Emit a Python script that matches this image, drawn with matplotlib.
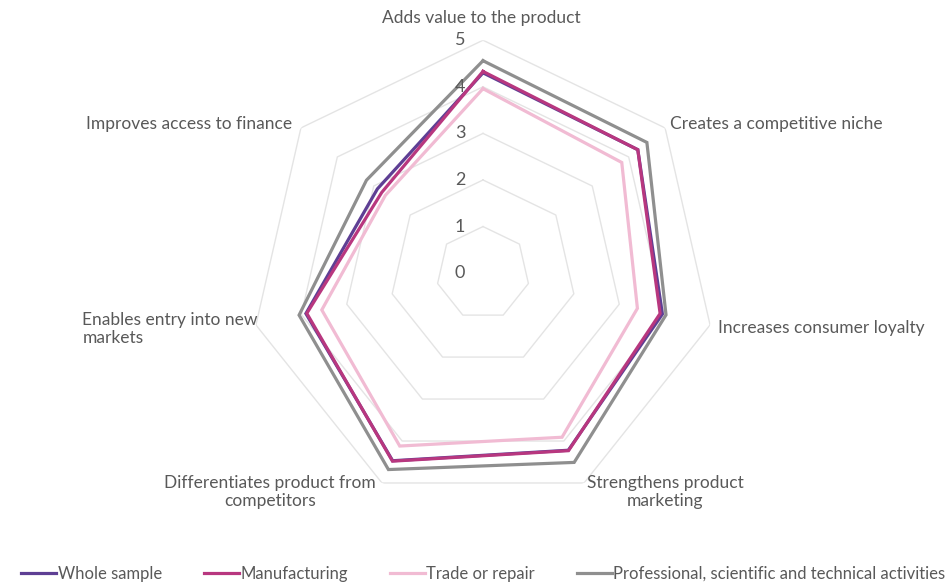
import numpy as np
import matplotlib
matplotlib.use("Agg")
import matplotlib.pyplot as plt
from matplotlib.transforms import offset_copy

plt.rcParams['font.family'] = ['Lato', 'DejaVu Sans']

categories = [
    "Adds value to the product",
    "Creates a competitive niche",
    "Increases consumer loyalty",
    "Strengthens product\nmarketing",
    "Differentiates product from\ncompetitors",
    "Enables entry into new\nmarkets",
    "Improves access to finance",
]
series_names = ["Whole sample", "Manufacturing", "Trade or repair",
                "Professional, scientific and technical activities"]
whole_sample = [4.30, 4.25, 3.95, 4.22, 4.47, 3.90, 2.90]
manufacturing = [4.33, 4.25, 3.90, 4.23, 4.48, 3.88, 2.78]
trade_repair = [3.96, 3.81, 3.40, 3.91, 4.12, 3.55, 2.68]
professional = [4.56, 4.50, 4.03, 4.51, 4.68, 4.05, 3.20]
radial_ticks = [0, 1, 2, 3, 4, 5]

colors = ["#5E3F94", "#B8377F", "#F1BBD3", "#8F8F8F"]
text_color = "#595959"
grid_color = "#E4E4E4"

fig = plt.figure(figsize=(9.48, 5.83), dpi=100)
ax = fig.add_axes([0.2637, 0.132, 0.4916, 0.799], projection='polar')
ax.set_theta_offset(np.pi / 2)
ax.set_theta_direction(-1)
ax.set_ylim(0, 5)
ax.grid(False)
ax.set_xticks([])
ax.set_yticks([])
ax.spines['polar'].set_visible(False)
ax.patch.set_alpha(0)

n = len(categories)
theta = np.arange(n) * 2 * np.pi / n
theta_c = np.append(theta, theta[0])

# polygon grid rings
for lvl in radial_ticks[1:]:
    ax.plot(theta_c, [lvl] * (n + 1), color=grid_color, lw=1.0, zorder=1)

for vals, col, name in zip([whole_sample, manufacturing, trade_repair, professional],
                           colors, series_names):
    v = np.append(vals, vals[0])
    ax.plot(theta_c, v, color=col, lw=2.3, label=name, zorder=3,
            solid_joinstyle='miter')

# radial tick labels
for t in radial_ticks:
    tr = offset_copy(ax.transData, fig=fig, x=-23, y=0, units='dots')
    ax.text(0, t, str(t), transform=tr, ha='center', va='center',
            fontsize=13, color=text_color)

# category labels
label_specs = [
    (-2, 22, 'center', 'center', 'center'),
    (5, 4, 'left', 'center', 'left'),
    (8, -3, 'left', 'center', 'left'),
    (81, -9, 'center', 'center', 'center'),
    (-112, -9, 'center', 'center', 'center'),
    (2, -4, 'right', 'center', 'left'),
    (-9, 4, 'right', 'center', 'left'),
]
for k, (lab, (dx, dy, ha, va, ma)) in enumerate(zip(categories, label_specs)):
    tr = offset_copy(ax.transData, fig=fig, x=dx, y=dy, units='dots')
    ax.text(theta[k], 5, lab, transform=tr, ha=ha, va=va, multialignment=ma,
            fontsize=12.5, color=text_color, linespacing=1.2)

leg = fig.legend(loc='lower center', bbox_to_anchor=(0.51, -0.024), ncol=4,
                 frameon=False, fontsize=12, handlelength=2.1, handletextpad=0.1,
                 columnspacing=2.5)
for t in leg.get_texts():
    t.set_color(text_color)

fig.savefig("out.png", dpi=100)
